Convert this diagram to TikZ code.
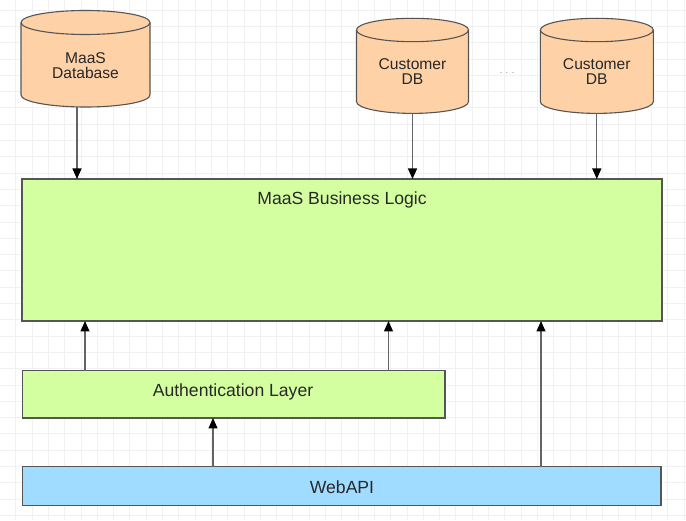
\documentclass[tikz,border=0pt]{standalone}
\usepackage{fontspec}
\setmainfont{Liberation Sans}
\usetikzlibrary{arrows.meta}
\definecolor{peach}{RGB}{255,209,166}
\definecolor{lgreen}{RGB}{212,255,160}
\definecolor{lblue}{RGB}{160,220,255}
\definecolor{edgegray}{RGB}{85,85,85}
\definecolor{arrgray}{RGB}{100,100,100}
\definecolor{txt}{RGB}{40,40,40}
\definecolor{gridc}{RGB}{241,241,241}
\newcommand\dbcyl[7]{%
  \filldraw[fill=peach,draw=edgegray,line width=1.1pt,line join=round]
    (#2-#5,#3) -- (#2-#5,#4) arc[start angle=180,end angle=360,x radius=#5,y radius=#6]
    -- (#2+#5,#3) arc[start angle=0,end angle=180,x radius=#5,y radius=#6] -- cycle;
  \draw[draw=edgegray,line width=1.1pt] (#2-#5,#3) arc[start angle=180,end angle=360,x radius=#5,y radius=#6];
  \node[shapebox,minimum width={2*#5},minimum height={#3-#4+2*#6}] (#1) at (#2,{(#3+#4)/2}) {};
  \node[dbtext] (#1-text) at (#2,{(#3+#4)/2+#7}) {\csname dblabel#1\endcsname};
}
\tikzset{
  gridline/.style={draw=gridc,line width=0.7pt},
  shapebox/.style={draw=none,inner sep=0pt,outer sep=0pt},
  layerbox/.style={draw=edgegray,line width=1.2pt,inner sep=0pt,outer sep=0pt,anchor=north west},
  bigtext/.style={text=txt,font=\fontsize{17.6}{20}\selectfont,inner sep=0pt},
  dbtext/.style={text=txt,font=\fontsize{15.6}{15.2}\selectfont,align=center,inner sep=0pt},
  arr/.style={draw=arrgray,line width=1.3pt,-{Triangle[length=10.5pt,width=9pt,color=black]}},
}
\newcommand\dblabelmdb{MaaS\\Database}
\newcommand\dblabelcdba{Customer\\DB}
\newcommand\dblabelcdbb{Customer\\DB}
\begin{document}
\begin{tikzpicture}[x=1pt,y=1pt]
\useasboundingbox (0,0) rectangle (686,520);
\fill[white] (0,0) rectangle (686,520);
\begin{scope}
\clip (0,0) rectangle (686,520);
\foreach \i in {0,...,42} \draw[gridline] ({-0.6+16.3*\i},0) -- ++(0,520);
\foreach \j in {0,...,32} \draw[gridline] (0,{510-16.3*\j}) -- ++(686,0);
\end{scope}

% databases
\dbcyl{mdb}{85.5}{497.5}{425}{64.5}{12}{-6.5}
\dbcyl{cdba}{412.5}{490}{418.3}{56}{11.7}{-6}
\dbcyl{cdbb}{596.8}{490}{418.3}{56.5}{11.7}{-6}
\node[text=gray,font=\fontsize{9}{9}\selectfont,inner sep=0pt] (dots) at (507,446.5) {.\hspace{3.5pt}.\hspace{3.5pt}.};

% layers
\node[layerbox,fill=lgreen,minimum width=640pt,minimum height=142pt] (bl) at (22,341) {};
\node[bigtext] (bltext) at (342,320.5) {MaaS Business Logic};
\node[layerbox,fill=lgreen,minimum width=422.3pt,minimum height=47.3pt] (auth) at (22.7,149.3) {};
\node[bigtext] (authtext) at (233,128.5) {Authentication Layer};
\node[layerbox,fill=lblue,minimum width=638.3pt,minimum height=39pt] (web) at (22.7,53.3) {};
\node[bigtext] (webtext) at (342,33) {WebAPI};

% connectors
\draw[arr] ([xshift=-8.5pt]mdb.south) -- ([xshift=-8.5pt]mdb.south |- bl.north);
\draw[arr] (cdba.south) -- (cdba.south |- bl.north);
\draw[arr] (cdbb.south) -- (cdbb.south |- bl.north);
\draw[arr] ([xshift=-148.85pt]auth.north) -- ([xshift=-148.85pt]auth.north |- bl.south);
\draw[arr] ([xshift=154.65pt]auth.north) -- ([xshift=154.65pt]auth.north |- bl.south);
\draw[arr] ([xshift=-128.85pt]web.north) -- ([xshift=-128.85pt]web.north |- auth.south);
\draw[arr] ([xshift=199.15pt]web.north) -- ([xshift=199.15pt]web.north |- bl.south);
\end{tikzpicture}
\end{document}
